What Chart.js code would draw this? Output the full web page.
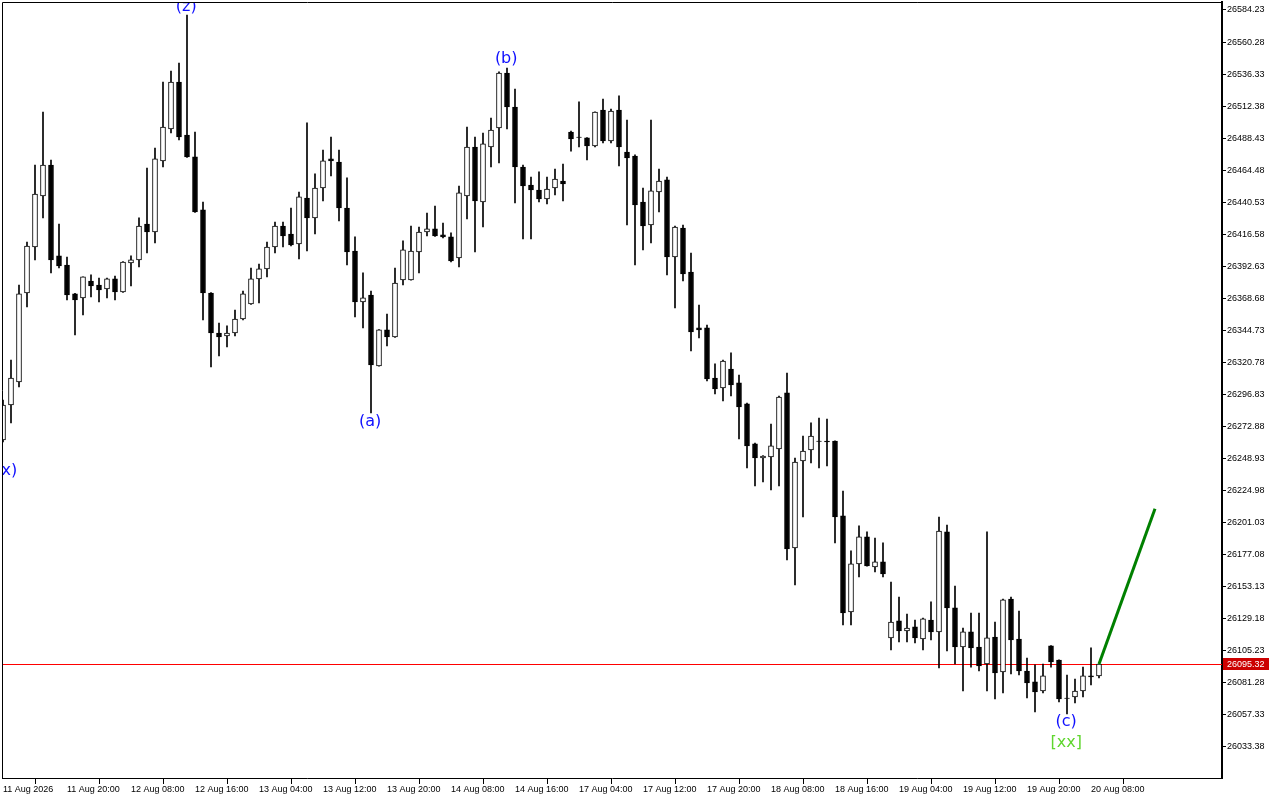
<!DOCTYPE html>
<html>
<head>
<meta charset="utf-8">
<script src="https://cdn.jsdelivr.net/npm/chart.js@4"></script>
<style>
  html, body { margin: 0; padding: 0; background: #fff; }
  canvas { display: block; }
</style>
</head>
<body>
<canvas id="chart" width="1280" height="800"></canvas>
<script>
// hourly candles
const opens = [26262.8,26289.0,26306.2,26372.7,26407.1,26445.2,26468.4,26400.4,26393.6,26372.0,
  26369.0,26381.7,26378.7,26375.7,26383.2,26373.5,26395.1,26397.4,26424.3,26418.3,
  26471.4,26495.3,26530.4,26490.8,26474.4,26434.8,26372.7,26342.8,26340.6,26342.8,
  26353.3,26364.5,26383.2,26390.7,26407.1,26422.8,26416.8,26409.3,26443.7,26428.8,
  26451.2,26472.9,26470.6,26436.2,26404.1,26366.0,26371.2,26318.2,26345.1,26339.8,
  26382.4,26382.4,26403.4,26418.3,26420.6,26416.1,26414.6,26398.9,26445.2,26481.8,
  26440.7,26481.8,26496.0,26537.1,26511.7,26466.9,26453.4,26449.7,26443.0,26451.2,
  26456.4,26493.0,26489.3,26488.6,26482.6,26509.5,26486.3,26509.5,26478.1,26475.1,
  26440.7,26423.5,26448.2,26457.2,26399.6,26421.3,26388.4,26346.6,26346.6,26309.2,
  26301.7,26315.9,26305.5,26289.8,26259.9,26249.4,26250.1,26256.1,26298.0,26182.1,
  26247.2,26255.4,26262.1,26262.1,26262.1,26206.1,26134.3,26170.2,26190.4,26167.9,
  26171.7,26114.9,26127.6,26120.1,26123.1,26114.1,26128.3,26119.4,26194.1,26137.3,
  26108.1,26119.4,26108.1,26095.4,26115.6,26089.5,26144.0,26114.1,26090.2,26082.0,
  26075.2,26108.9,26098.4,26070.0,26070.8,26075.2,26086.5,26086.5];
const highs = [26292.7,26322.6,26378.7,26410.8,26468.4,26508.0,26472.1,26424.3,26399.6,26372.5,
  26384.7,26386.2,26383.9,26383.9,26385.4,26396.2,26400.4,26428.8,26466.1,26481.1,
  26530.4,26538.6,26544.6,26580.5,26493.0,26440.7,26373.0,26350.3,26348.1,26360.0,
  26374.2,26391.4,26394.4,26410.8,26425.8,26425.8,26436.2,26448.2,26499.8,26461.7,
  26479.6,26489.3,26479.6,26458.7,26414.6,26387.7,26374.2,26345.3,26357.0,26391.4,
  26411.6,26422.8,26422.0,26432.5,26437.7,26425.0,26417.6,26452.7,26496.8,26489.3,
  26492.3,26503.5,26538.0,26540.9,26525.2,26468.4,26459.4,26463.2,26459.4,26465.4,
  26469.1,26493.8,26515.5,26488.8,26508.2,26517.7,26510.2,26520.0,26502.0,26475.9,
  26451.2,26502.0,26465.4,26459.4,26422.8,26423.5,26402.6,26363.7,26348.8,26319.7,
  26322.6,26327.9,26311.4,26290.5,26260.6,26251.1,26274.8,26295.7,26312.9,26249.4,
  26265.8,26275.6,26279.3,26278.5,26262.3,26224.7,26179.9,26198.6,26194.1,26189.6,
  26185.9,26156.7,26145.5,26132.8,26128.3,26129.8,26141.8,26205.3,26199.3,26153.7,
  26122.3,26133.5,26133.5,26194.1,26126.8,26144.0,26145.5,26135.0,26099.9,26094.7,
  26095.4,26109.1,26098.6,26087.2,26084.2,26093.1,26107.4,26095.5];
const lows = [26261.4,26275.6,26302.5,26362.3,26397.4,26428.8,26387.7,26391.4,26367.5,26341.3,
  26356.3,26369.7,26366.0,26369.0,26367.5,26373.2,26377.9,26392.1,26402.6,26410.1,
  26466.9,26492.3,26487.1,26474.0,26433.0,26352.5,26317.4,26325.6,26332.4,26340.6,
  26352.5,26364.2,26365.2,26384.7,26402.6,26407.1,26407.8,26398.1,26404.1,26416.8,
  26441.5,26460.2,26426.5,26393.6,26354.8,26346.6,26283.0,26318.0,26333.1,26339.5,
  26378.7,26382.2,26387.7,26415.3,26415.0,26413.8,26395.9,26392.1,26428.0,26403.4,
  26422.0,26466.9,26469.9,26495.3,26440.0,26413.1,26413.1,26440.7,26439.2,26446.0,
  26441.5,26478.8,26481.8,26472.1,26481.8,26484.8,26484.8,26467.6,26423.5,26393.6,
  26404.9,26410.1,26433.3,26386.2,26361.5,26381.7,26329.4,26339.1,26306.9,26297.2,
  26292.0,26295.7,26263.6,26241.9,26228.5,26231.5,26225.5,26228.5,26173.2,26154.5,
  26205.3,26245.7,26241.9,26243.4,26185.9,26124.6,26124.6,26160.5,26168.5,26164.2,
  26160.5,26105.9,26111.9,26111.9,26111.1,26105.9,26113.4,26092.4,26105.1,26095.4,
  26075.2,26093.1,26090.2,26075.2,26069.3,26073.7,26087.9,26087.2,26070.0,26059.6,
  26073.7,26093.1,26067.0,26058.1,26066.3,26070.8,26079.7,26085.0];
const closes = [26289.0,26309.2,26372.0,26407.8,26446.7,26468.4,26397.4,26392.9,26371.2,26367.5,
  26384.7,26377.9,26375.0,26383.2,26373.5,26395.9,26397.4,26422.8,26418.3,26472.9,
  26496.8,26530.4,26489.3,26474.4,26433.3,26372.7,26342.8,26339.8,26342.8,26353.3,
  26372.0,26383.2,26390.7,26407.1,26422.8,26415.3,26408.6,26444.5,26428.8,26451.2,
  26471.4,26471.4,26436.2,26403.4,26366.0,26369.0,26318.9,26345.1,26339.8,26380.2,
  26404.9,26404.1,26418.3,26420.6,26415.3,26414.6,26396.6,26447.5,26481.8,26441.5,
  26484.1,26494.5,26537.1,26511.7,26466.9,26452.7,26449.7,26443.0,26450.4,26457.9,
  26454.2,26487.8,26489.0,26482.6,26508.0,26486.3,26508.7,26481.8,26473.6,26438.5,
  26422.8,26449.0,26456.4,26399.6,26422.0,26386.9,26343.6,26345.1,26308.4,26301.0,
  26321.9,26304.0,26287.5,26258.4,26249.4,26250.9,26258.4,26295.0,26181.4,26246.4,
  26254.6,26265.8,26261.8,26261.4,26205.3,26133.5,26170.2,26190.4,26168.7,26171.7,
  26162.7,26126.8,26120.1,26122.3,26114.9,26129.1,26119.4,26194.8,26137.3,26108.1,
  26119.4,26107.4,26093.9,26114.9,26088.7,26143.3,26113.4,26090.2,26081.2,26074.5,
  26086.5,26096.9,26069.3,26069.7,26075.2,26086.5,26085.7,26095.32];

const lastPrice = 26095.32;

// projection line (bar index, price)
const projIndex = [137, 144];
const projPrice = [26095.32, 26211.5];

// wave marks
const waveText = ['(x)', '(z)', '(a)', '(b)', '(c)', '[xx]'];
const waveIndex = [0.4, 22.9, 45.9, 62.9, 132.9, 132.9];
const wavePrice = [26239.7, 26586.5, 26276.3, 26547.6, 26052.1, 26036.4];

const xTickLabels = ['11 Aug 2026', '11 Aug 20:00', '12 Aug 08:00', '12 Aug 16:00', '13 Aug 04:00',
  '13 Aug 12:00', '13 Aug 20:00', '14 Aug 08:00', '14 Aug 16:00', '17 Aug 04:00', '17 Aug 12:00',
  '17 Aug 20:00', '18 Aug 08:00', '18 Aug 16:00', '19 Aug 04:00', '19 Aug 12:00', '19 Aug 20:00',
  '20 Aug 08:00'];
const yTicks = [26584.23, 26560.28, 26536.33, 26512.38, 26488.43, 26464.48, 26440.53, 26416.58,
  26392.63, 26368.68, 26344.73, 26320.78, 26296.83, 26272.88, 26248.93, 26224.98, 26201.03,
  26177.08, 26153.13, 26129.18, 26105.23, 26081.28, 26057.33, 26033.38];

const axisFont = { family: 'Liberation Sans', size: 9 };

function noPad(axis) {
  axis.paddingTop = 0;
  axis.paddingBottom = 0;
  axis.paddingLeft = 0;
  axis.paddingRight = 0;
}

const overlay = {
  id: 'overlay',
  beforeDatasetsDraw(chart) {
    const { ctx, chartArea: a, scales: { y } } = chart;
    const py = Math.round(y.getPixelForValue(lastPrice)) + 0.5;
    ctx.save();
    ctx.strokeStyle = '#ff0000';
    ctx.lineWidth = 1;
    ctx.beginPath();
    ctx.moveTo(a.left, py);
    ctx.lineTo(a.right, py);
    ctx.stroke();
    ctx.restore();
  },
  afterDatasetsDraw(chart) {
    const { ctx, chartArea: a, scales: { x, y } } = chart;
    ctx.save();
    ctx.beginPath();
    ctx.rect(a.left, a.top, a.right - a.left, a.bottom - a.top);
    ctx.clip();
    ctx.font = '16px "DejaVu Sans"';
    ctx.textAlign = 'center';
    ctx.textBaseline = 'middle';
    waveText.forEach((t, i) => {
      ctx.fillStyle = t === '[xx]' ? '#5fd62e' : '#1010ff';
      ctx.fillText(t, x.getPixelForValue(waveIndex[i]), y.getPixelForValue(wavePrice[i]));
    });
    ctx.restore();
  },
  afterDraw(chart) {
    const { ctx, chartArea: a, scales: { y } } = chart;
    ctx.save();
    ctx.strokeStyle = '#000';
    ctx.lineWidth = 1;
    ctx.beginPath();
    ctx.moveTo(a.left + 0.5, a.bottom);
    ctx.lineTo(a.left + 0.5, a.top + 0.5);
    ctx.lineTo(a.right, a.top + 0.5);
    ctx.stroke();
    // price tag
    const py = Math.round(y.getPixelForValue(lastPrice));
    ctx.fillStyle = '#cc0000';
    ctx.fillRect(a.right + 1, py - 6, 46, 12);
    ctx.fillStyle = '#fff';
    ctx.font = '9px "Liberation Sans"';
    ctx.textBaseline = 'middle';
    ctx.textAlign = 'left';
    ctx.fillText(lastPrice.toFixed(2), a.right + 5, py + 0.5);
    ctx.restore();
  }
};

new Chart(document.getElementById('chart'), {
  type: 'bar',
  data: {
    datasets: [
      {
        type: 'line',
        data: projIndex.map((v, i) => ({ x: v, y: projPrice[i] })),
        borderColor: '#008000',
        borderWidth: 3,
        pointRadius: 0,
        order: 0
      },
      {
        data: opens.map((o, i) => ({ x: i, y: [o, closes[i]] })),
        backgroundColor: ctx => closes[ctx.dataIndex] >= opens[ctx.dataIndex] ? '#fff' : '#000',
        borderColor: '#000',
        borderWidth: 1,
        borderSkipped: false,
        barThickness: 5,
        grouped: false,
        order: 1
      },
      {
        data: lows.map((l, i) => ({ x: i, y: [l, highs[i]] })),
        backgroundColor: '#000',
        borderWidth: 0,
        barThickness: 1,
        grouped: false,
        order: 2
      }
    ]
  },
  options: {
    responsive: false,
    animation: false,
    devicePixelRatio: 1,
    layout: { padding: { left: 2, top: 2, right: 0, bottom: 0 } },
    plugins: { legend: { display: false }, tooltip: { enabled: false } },
    scales: {
      x: {
        type: 'linear',
        min: -0.125,
        max: 152.375,
        offset: false,
        grid: { drawOnChartArea: false, drawTicks: true, tickLength: 6, color: '#000' },
        border: { display: true, color: '#000', width: 1 },
        afterBuildTicks: axis => { axis.ticks = xTickLabels.map((_, i) => ({ value: i * 8 })); },
        afterFit: axis => { axis.height = 22; noPad(axis); },
        ticks: {
          autoSkip: false,
          maxRotation: 0,
          align: 'start',
          padding: 0,
          color: '#000',
          font: axisFont,
          callback: v => xTickLabels[v / 8]
        }
      },
      y: {
        position: 'right',
        min: 26010.2,
        max: 26590.2,
        grid: { drawOnChartArea: false, drawTicks: true, tickLength: 4, color: '#000' },
        border: { display: true, color: '#000', width: 2 },
        afterBuildTicks: axis => { axis.ticks = yTicks.map(v => ({ value: v })); },
        afterFit: axis => { axis.width = 58; noPad(axis); },
        ticks: {
          padding: 1,
          color: '#000',
          font: axisFont,
          callback: v => v.toFixed(2)
        }
      }
    }
  },
  plugins: [overlay]
});
</script>
</body>
</html>
